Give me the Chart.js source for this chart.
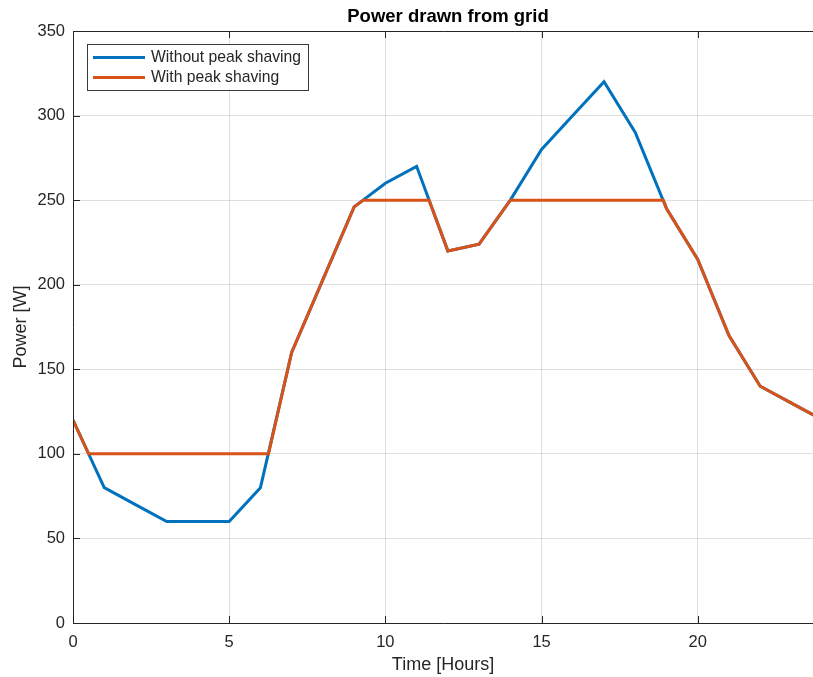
<!DOCTYPE html>
<html>
<head>
<meta charset="utf-8">
<script src="https://cdn.jsdelivr.net/npm/chart.js@4/dist/chart.umd.min.js"></script>
<style>
  html, body { margin: 0; padding: 0; background: #fff; }
  #wrap { width: 813px; height: 677px; }
</style>
</head>
<body>
<div id="wrap"><canvas id="powerChart" width="813" height="677"></canvas></div>
<script>
// values
const hours = [0, 1, 2, 3, 4, 5, 6, 7, 8, 9, 10, 11, 12, 13, 14, 15, 16, 17, 18, 19, 20, 21, 22, 23, 24];
const withoutShaving = [120, 80, 70, 60, 60, 60, 80, 160, 203, 246, 260, 270, 220, 224, 250, 280, 300, 320, 290, 245, 215, 170, 140, 130, 120];

const shavedHours = [0, 0.5, 6.26, 7, 8, 9, 9.3, 11.4, 12, 13, 14, 18.9, 19, 20, 21, 22, 23, 24];
const withShaving = [120, 100, 100, 160, 203, 246, 250, 250, 220, 224, 250, 250, 245, 215, 170, 140, 130, 120];

const xTicks = [0, 5, 10, 15, 20];
const yTicks = [0, 50, 100, 150, 200, 250, 300, 350];

const seriesNames = ["Without peak shaving", "With peak shaving"];
const blue = "#0072BD";
const orange = "#D95319";
const axisColor = "#262626";
const font = "'Liberation Sans', Arial, Helvetica, sans-serif";

function toPoints(xs, ys) {
  return xs.map((x, i) => ({ x: x, y: ys[i] }));
}

// box, inward ticks, title and legend, drawn the matlab way
const matlabFrame = {
  id: "matlabFrame",
  afterDraw(chart) {
    const { ctx, chartArea: a, scales } = chart;
    ctx.save();
    ctx.strokeStyle = axisColor;
    ctx.lineWidth = 1;
    ctx.beginPath();
    ctx.moveTo(a.left + 0.5, a.bottom + 0.5);
    ctx.lineTo(a.left + 0.5, a.top + 0.5);
    ctx.lineTo(a.right, a.top + 0.5);
    ctx.moveTo(a.left + 0.5, a.bottom + 0.5);
    ctx.lineTo(a.right, a.bottom + 0.5);
    const tl = 7;
    xTicks.forEach(v => {
      const px = Math.round(scales.x.getPixelForValue(v)) + 0.5;
      ctx.moveTo(px, a.bottom);
      ctx.lineTo(px, a.bottom - tl);
      ctx.moveTo(px, a.top);
      ctx.lineTo(px, a.top + tl);
    });
    yTicks.forEach(v => {
      const py = Math.round(scales.y.getPixelForValue(v)) + 0.5;
      ctx.moveTo(a.left, py);
      ctx.lineTo(a.left + tl, py);
    });
    ctx.stroke();

    // title
    ctx.fillStyle = "#000";
    ctx.font = "bold 18.5px " + font;
    ctx.textAlign = "center";
    ctx.textBaseline = "middle";
    ctx.fillText("Power drawn from grid", 448, 17);

    // legend
    const lx = 87.5, ly = 44.5, lw = 221, lh = 46;
    ctx.fillStyle = "#fff";
    ctx.fillRect(lx, ly, lw, lh);
    ctx.strokeStyle = "#3a3a3a";
    ctx.lineWidth = 1;
    ctx.strokeRect(lx, ly, lw, lh);
    const rows = [[seriesNames[0], blue, 57.5], [seriesNames[1], orange, 77.5]];
    ctx.font = "15.7px " + font;
    ctx.textAlign = "left";
    rows.forEach(r => {
      ctx.strokeStyle = r[1];
      ctx.lineWidth = 3;
      ctx.beginPath();
      ctx.moveTo(93, r[2]);
      ctx.lineTo(145, r[2]);
      ctx.stroke();
      ctx.fillStyle = axisColor;
      ctx.fillText(r[0], 151, r[2]);
    });
    ctx.restore();
  }
};

new Chart(document.getElementById("powerChart").getContext("2d"), {
  type: "line",
  data: {
    datasets: [
      {
        label: seriesNames[1],
        data: toPoints(shavedHours, withShaving),
        borderColor: orange,
        borderWidth: 3,
        pointRadius: 0,
        tension: 0,
        fill: false,
        order: 1
      },
      {
        label: seriesNames[0],
        data: toPoints(hours, withoutShaving),
        borderColor: blue,
        borderWidth: 3,
        pointRadius: 0,
        tension: 0,
        fill: false,
        order: 2
      }
    ]
  },
  options: {
    responsive: false,
    animation: false,
    layout: { padding: { top: 31, right: 0, left: 0, bottom: 0 } },
    plugins: {
      legend: { display: false },
      title: { display: false },
      tooltip: { enabled: false }
    },
    scales: {
      x: {
        type: "linear",
        min: 0,
        max: 23.69,
        afterFit(scale) { scale.height = 54; },
        afterBuildTicks(scale) { scale.ticks = xTicks.map(v => ({ value: v })); },
        ticks: {
          includeBounds: false,
          padding: 10,
          color: axisColor,
          font: { family: font, size: 16.5 }
        },
        grid: { color: "rgba(38,38,38,0.15)", lineWidth: 1, drawTicks: false },
        border: { display: false },
        title: {
          display: true,
          text: "Time [Hours]",
          color: axisColor,
          font: { family: font, size: 18 },
          padding: { top: 0, bottom: 1 }
        }
      },
      y: {
        min: 0,
        max: 350,
        afterFit(scale) { scale.width = 73; },
        afterBuildTicks(scale) { scale.ticks = yTicks.map(v => ({ value: v })); },
        ticks: {
          padding: 8,
          color: axisColor,
          font: { family: font, size: 16.5 }
        },
        grid: { color: "rgba(38,38,38,0.15)", lineWidth: 1, drawTicks: false },
        border: { display: false },
        title: {
          display: true,
          text: "Power [W]",
          color: axisColor,
          font: { family: font, size: 18 },
          padding: { top: 10, bottom: 0 }
        }
      }
    }
  },
  plugins: [matlabFrame]
});
</script>
</body>
</html>
